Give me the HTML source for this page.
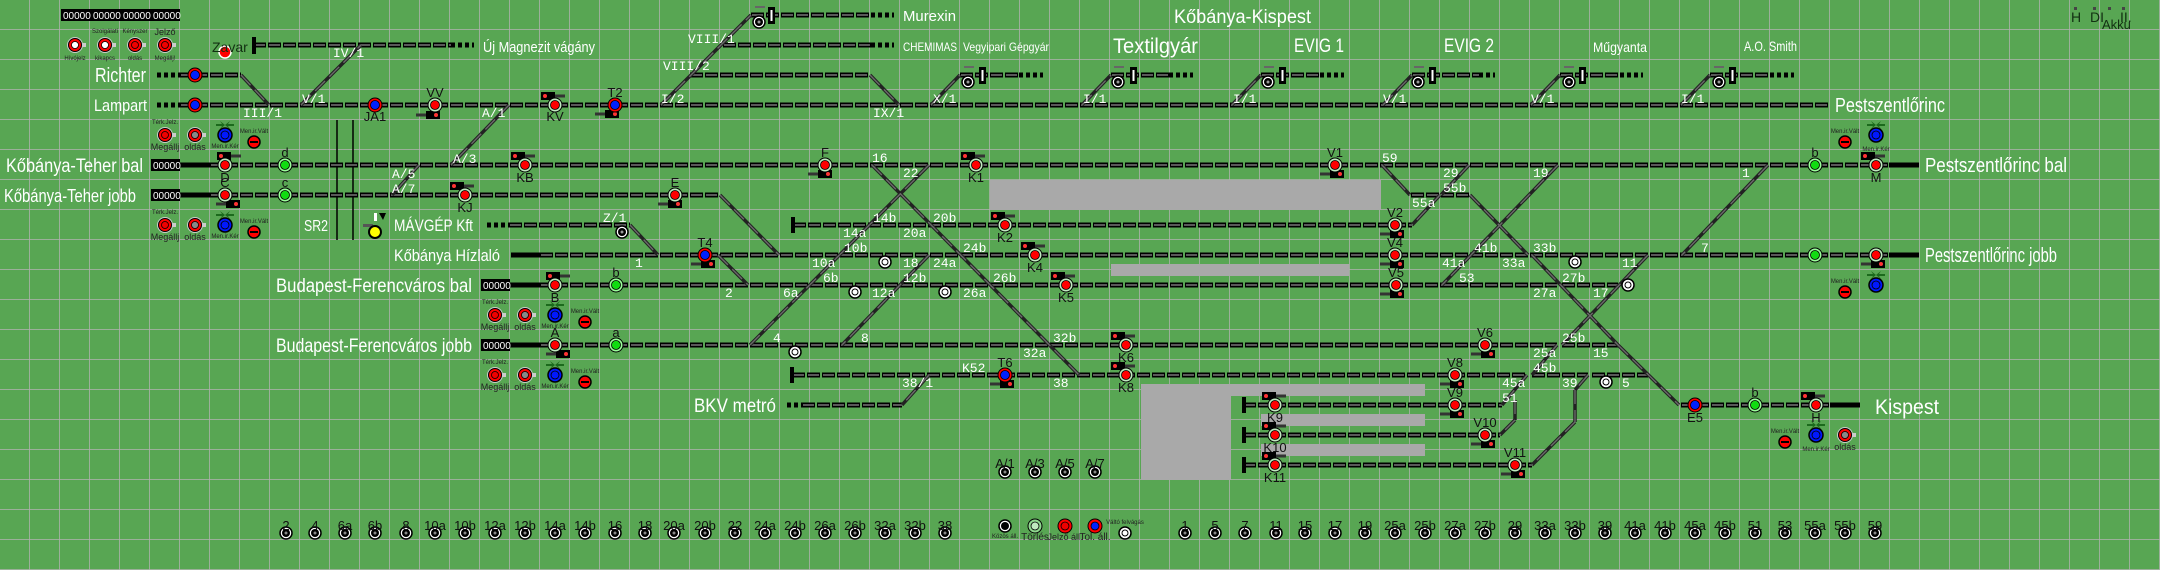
<!DOCTYPE html>
<html><head><meta charset="utf-8"><style>
html,body{margin:0;padding:0;background:#58a653;}
svg{display:block}
.w{fill:#fff;font-family:"Liberation Sans Narrow","Liberation Sans",sans-serif}
.m{fill:#fff;font-family:"Liberation Mono",monospace;font-size:13px}
.d{fill:#123012;font-family:"Liberation Sans Narrow","Liberation Sans",sans-serif;font-size:14px}
.n{fill:#111;font-family:"Liberation Sans Narrow","Liberation Sans",sans-serif;font-size:13px;text-anchor:middle}
.s{fill:#222;font-family:"Liberation Sans",sans-serif;font-size:6px;text-anchor:middle}
</style></head><body>
<svg width="2160" height="570" viewBox="0 0 2160 570" xmlns="http://www.w3.org/2000/svg">
<defs>
<pattern id="grid" width="30" height="30" patternUnits="userSpaceOnUse">
<path d="M30 0V30M0 30H30" fill="none" stroke="#b2b2b2" stroke-width="1.5"/>
</pattern>
<g id="trk">
<line x1="751" y1="15" x2="871" y2="15"/>
<line x1="253" y1="45" x2="451" y2="45"/>
<line x1="723" y1="45" x2="871" y2="45"/>
<line x1="180" y1="75" x2="241" y2="75"/>
<line x1="690" y1="75" x2="870" y2="75"/>
<line x1="960" y1="75" x2="1019" y2="75"/>
<line x1="1111" y1="75" x2="1169" y2="75"/>
<line x1="1261" y1="75" x2="1320" y2="75"/>
<line x1="1412" y1="75" x2="1479" y2="75"/>
<line x1="1560" y1="75" x2="1620" y2="75"/>
<line x1="1710" y1="75" x2="1770" y2="75"/>
<line x1="180" y1="105" x2="1830" y2="105"/>
<line x1="210" y1="165" x2="1889" y2="165"/>
<line x1="210" y1="195" x2="720" y2="195"/>
<line x1="1411" y1="195" x2="1439" y2="195"/>
<line x1="1441" y1="195" x2="1470" y2="195"/>
<line x1="509" y1="225" x2="630" y2="225"/>
<line x1="793" y1="225" x2="1412" y2="225"/>
<line x1="540" y1="255" x2="1889" y2="255"/>
<line x1="540" y1="285" x2="1557" y2="285"/>
<line x1="1562" y1="285" x2="1618" y2="285"/>
<line x1="540" y1="345" x2="1557" y2="345"/>
<line x1="1562" y1="345" x2="1618" y2="345"/>
<line x1="792" y1="375" x2="1527" y2="375"/>
<line x1="1532" y1="375" x2="1588" y2="375"/>
<line x1="1592" y1="375" x2="1648" y2="375"/>
<line x1="802" y1="405" x2="902" y2="405"/>
<line x1="1243" y1="405" x2="1502" y2="405"/>
<line x1="1243" y1="435" x2="1500" y2="435"/>
<line x1="1243" y1="465" x2="1532" y2="465"/>
<line x1="1681" y1="405" x2="1830" y2="405"/>
</g>
<g id="dia">
<line x1="241" y1="75" x2="269" y2="105"/>
<line x1="870" y1="75" x2="899" y2="105"/>
<line x1="931" y1="105" x2="960" y2="75"/>
<line x1="1082" y1="105" x2="1111" y2="75"/>
<line x1="1232" y1="105" x2="1261" y2="75"/>
<line x1="1383" y1="105" x2="1412" y2="75"/>
<line x1="1531" y1="105" x2="1560" y2="75"/>
<line x1="1681" y1="105" x2="1710" y2="75"/>
<line x1="301" y1="105" x2="361" y2="45"/>
<line x1="661" y1="105" x2="751" y2="15"/>
<line x1="509" y1="105" x2="451" y2="165"/>
<line x1="419" y1="165" x2="392" y2="195"/>
<line x1="720" y1="195" x2="779" y2="255"/>
<line x1="630" y1="225" x2="658" y2="255"/>
<line x1="718" y1="255" x2="748" y2="285"/>
<line x1="872" y1="165" x2="1079" y2="375"/>
<line x1="929" y1="165" x2="750" y2="345"/>
<line x1="929" y1="255" x2="842" y2="345"/>
<line x1="1382" y1="165" x2="1410" y2="195"/>
<line x1="1440" y1="195" x2="1412" y2="225"/>
<line x1="1469" y1="165" x2="1441" y2="195"/>
<line x1="1470" y1="195" x2="1528" y2="255"/>
<line x1="1558" y1="165" x2="1442" y2="285"/>
<line x1="1532" y1="255" x2="1618" y2="345"/>
<line x1="1648" y1="255" x2="1562" y2="345"/>
<line x1="1618" y1="345" x2="1679" y2="405"/>
<line x1="1557" y1="345" x2="1532" y2="375"/>
<line x1="1768" y1="165" x2="1682" y2="255"/>
<line x1="929" y1="375" x2="902" y2="405"/>
<line x1="1527" y1="375" x2="1502" y2="405"/>
<line x1="1515" y1="400" x2="1515" y2="420"/>
<line x1="1515" y1="420" x2="1500" y2="435"/>
<line x1="1588" y1="375" x2="1575" y2="390"/>
<line x1="1575" y1="390" x2="1575" y2="422"/>
<line x1="1575" y1="422" x2="1532" y2="465"/>
</g>
<g id="sig"><circle r="7" fill="#bfeabf" stroke="#000"/><circle r="4.5" fill="#f00" stroke="#000" stroke-width=".8"/></g>
<g id="sigb"><circle r="7" fill="#f00" stroke="#000"/><circle r="4.5" fill="#0020ff" stroke="#000" stroke-width=".8"/></g>
<g id="sigg"><circle r="7" fill="#9f9" stroke="#000"/><circle r="4.5" fill="#1d1" stroke="#000" stroke-width=".8"/></g>
<g id="ring"><circle r="6" fill="#fff" stroke="#000" stroke-width="1.5"/><circle r="3" fill="none" stroke="#000"/></g>
<g id="bring"><circle r="6" fill="#fff" stroke="#000" stroke-width="1.5"/><circle r="4" fill="#000"/><circle r="1.5" fill="#999"/></g>
<g id="dwr"><rect x="-12" y="-4" width="14" height="8" fill="#000"/><circle cx="-8" cy="0" r="2" fill="#f33"/><rect x="2" y="-1.5" width="10" height="3" fill="#333"/></g>
<g id="dwl"><rect x="-2" y="-4" width="14" height="8" fill="#000"/><circle cx="8" cy="0" r="2" fill="#f33"/><rect x="-12" y="-1.5" width="10" height="3" fill="#333"/></g>
<g id="btr"><rect x="4" y="-2" width="7" height="4" fill="#ccc"/><circle r="8" fill="#ccc"/><circle r="6.5" fill="#f00" stroke="#000"/><circle r="3.5" fill="#e00" stroke="#000" stroke-width=".8"/></g>
<g id="btg"><rect x="4" y="-2" width="7" height="4" fill="#ccc"/><circle r="8" fill="#ccc"/><circle r="6.5" fill="#f00" stroke="#000"/><circle r="3.5" fill="#888" stroke="#000" stroke-width=".8"/></g>
<g id="btw"><rect x="4" y="-2" width="7" height="4" fill="#ccc"/><circle r="8" fill="#ccc"/><circle r="6.5" fill="#f00" stroke="#000"/><circle r="3.5" fill="#fff" stroke="#000" stroke-width=".8"/></g>
<g id="btb"><circle r="7" fill="#0018ff" stroke="#000" stroke-width="1.5"/><circle r="4" fill="none" stroke="#000" stroke-width=".8"/><path d="M-9-11h6l-2-3 5 4-5 4 2-3h-6zM9-11h-6l2-3-5 4 5 4-2-3h6z" fill="#1c6a1c"/></g>
<g id="bts"><circle r="6" fill="#f00" stroke="#000" stroke-width="1.5"/><rect x="-4" y="-1" width="8" height="2" fill="#000"/></g>
<g id="num"><circle r="6" fill="#fff" stroke="#000" stroke-width="1.5"/><circle r="4" fill="#000"/><circle r="1.5" fill="#888"/></g>
</defs>
<rect width="2160" height="570" fill="#58a653"/>
<rect width="2160" height="570" fill="url(#grid)"/>

<!-- gray blocks -->
<g fill="#a9a9a9">
<rect x="990" y="180" width="391" height="30"/>
<rect x="1111" y="264" width="238" height="12"/>
<rect x="1141" y="384" width="90" height="96"/>
<rect x="1231" y="384" width="194" height="12"/>
<rect x="1261" y="414" width="164" height="12"/>
<rect x="1261" y="444" width="164" height="12"/>
</g>

<!-- SR2 lines -->
<line x1="337" y1="120" x2="337" y2="240" stroke="#000" stroke-width="1.5"/>
<line x1="353" y1="120" x2="353" y2="240" stroke="#000" stroke-width="1.5"/>

<!-- tracks -->
<use href="#trk" stroke="#000" stroke-width="5" stroke-dasharray="13 2"/>
<use href="#trk" stroke="#666" stroke-width="1.8" stroke-dasharray="11 4" stroke-dashoffset="-1"/>
<use href="#dia" stroke="#222" stroke-width="3.5"/>
<use href="#dia" stroke="#6a6a6a" stroke-width="1.4" stroke-dasharray="14 6"/>
<!-- dotted ends -->
<g stroke="#000" stroke-width="5" stroke-dasharray="4 3">
<line x1="871" y1="15" x2="894" y2="15"/><line x1="451" y1="45" x2="474" y2="45"/><line x1="871" y1="45" x2="894" y2="45"/>
<line x1="157" y1="75" x2="180" y2="75"/><line x1="157" y1="105" x2="180" y2="105"/>
<line x1="1019" y1="75" x2="1043" y2="75"/><line x1="1169" y1="75" x2="1193" y2="75"/><line x1="1320" y1="75" x2="1344" y2="75"/>
<line x1="1479" y1="75" x2="1495" y2="75"/><line x1="1620" y1="75" x2="1643" y2="75"/><line x1="1770" y1="75" x2="1794" y2="75"/>
<line x1="487" y1="225" x2="509" y2="225"/><line x1="787" y1="405" x2="803" y2="405"/>
</g>
<!-- thick ends -->
<g stroke="#000" stroke-width="5">
<line x1="180" y1="165" x2="210" y2="165"/><line x1="180" y1="195" x2="210" y2="195"/>
<line x1="511" y1="255" x2="540" y2="255"/><line x1="510" y1="285" x2="540" y2="285"/><line x1="510" y1="345" x2="540" y2="345"/>
<line x1="1889" y1="165" x2="1919" y2="165"/><line x1="1889" y1="255" x2="1919" y2="255"/><line x1="1830" y1="405" x2="1860" y2="405"/>
</g>
<!-- bumpers -->
<g fill="#000">
<rect x="252" y="37" width="4" height="17"/><rect x="791" y="217" width="4" height="16"/><rect x="790" y="367" width="4" height="16"/>
<rect x="1242" y="397" width="4" height="16"/><rect x="1242" y="427" width="4" height="16"/><rect x="1242" y="457" width="4" height="16"/>
</g>
<!-- derails -->
<g><g fill="#000"><rect x="768" y="7" width="7" height="17"/><rect x="979" y="67" width="7" height="17"/><rect x="1130" y="67" width="7" height="17"/><rect x="1279" y="67" width="7" height="17"/><rect x="1429" y="67" width="7" height="17"/><rect x="1579" y="67" width="7" height="17"/><rect x="1729" y="67" width="7" height="17"/></g>
<g fill="#fff"><rect x="770.5" y="10" width="2" height="11"/><rect x="981.5" y="70" width="2" height="11"/><rect x="1132.5" y="70" width="2" height="11"/><rect x="1281.5" y="70" width="2" height="11"/><rect x="1431.5" y="70" width="2" height="11"/><rect x="1581.5" y="70" width="2" height="11"/><rect x="1731.5" y="70" width="2" height="11"/></g>
<g fill="#666"><rect x="755" y="6" width="10" height="2"/><rect x="964" y="66" width="10" height="2"/><rect x="1114" y="66" width="10" height="2"/><rect x="1264" y="66" width="10" height="2"/><rect x="1414" y="66" width="10" height="2"/><rect x="1564" y="66" width="10" height="2"/><rect x="1714" y="66" width="10" height="2"/></g></g>

<!-- counters -->
<g font-family="Liberation Sans Narrow, Liberation Sans, sans-serif" font-size="10" fill="#fff">
<rect x="61" y="9" width="119" height="12" fill="#000"/>
<text x="63" y="19">00000</text><text x="93" y="19">00000</text><text x="123" y="19">00000</text><text x="153" y="19">00000</text>
<rect x="151" y="159" width="29" height="12" fill="#000"/><text x="153" y="169">00000</text>
<rect x="151" y="189" width="29" height="12" fill="#000"/><text x="153" y="199">00000</text>
<rect x="481" y="279" width="29" height="12" fill="#000"/><text x="483" y="289">00000</text>
<rect x="481" y="339" width="29" height="12" fill="#000"/><text x="483" y="349">00000</text>
</g>

<!-- rings -->
<use href="#bring" x="759" y="22"/><use href="#bring" x="968" y="82"/><use href="#bring" x="1118" y="82"/><use href="#bring" x="1268" y="82"/><use href="#bring" x="1418" y="82"/><use href="#bring" x="1569" y="82"/><use href="#bring" x="1719" y="82"/>
<use href="#bring" x="622" y="232"/>
<use href="#ring" x="885" y="262"/><use href="#ring" x="855" y="292"/><use href="#ring" x="945" y="292"/><use href="#ring" x="795" y="352"/>
<use href="#ring" x="1575" y="262"/><use href="#ring" x="1628" y="285"/><use href="#ring" x="1606" y="382"/>

<!-- dwarf signals -->
<use href="#dwr" x="553" y="96"/><use href="#dwl" x="607" y="114"/><use href="#dwl" x="428" y="115"/>
<use href="#dwr" x="229" y="156"/><use href="#dwl" x="228" y="204"/><use href="#dwr" x="523" y="156"/><use href="#dwr" x="462" y="186"/><use href="#dwl" x="670" y="204"/>
<use href="#dwl" x="820" y="174"/><use href="#dwr" x="973" y="156"/><use href="#dwl" x="1332" y="174"/>
<use href="#dwr" x="1003" y="216"/><use href="#dwl" x="1392" y="234"/><use href="#dwl" x="703" y="264"/><use href="#dwr" x="1033" y="246"/><use href="#dwl" x="1392" y="264"/>
<use href="#dwr" x="558" y="276"/><use href="#dwr" x="1063" y="276"/><use href="#dwl" x="1392" y="294"/>
<use href="#dwl" x="558" y="354"/><use href="#dwr" x="1123" y="336"/><use href="#dwl" x="1483" y="354"/>
<use href="#dwl" x="1002" y="384"/><use href="#dwr" x="1123" y="366"/><use href="#dwl" x="1452" y="384"/>
<use href="#dwr" x="1274" y="396"/><use href="#dwl" x="1452" y="414"/><use href="#dwr" x="1274" y="426"/><use href="#dwl" x="1483" y="444"/><use href="#dwr" x="1274" y="456"/><use href="#dwl" x="1513" y="474"/>
<use href="#dwr" x="1873" y="156"/><use href="#dwl" x="1873" y="264"/><use href="#dwr" x="1813" y="396"/>

<!-- signals -->
<use href="#sigb" x="195" y="75"/><use href="#sigb" x="195" y="105"/><use href="#sigb" x="375" y="105"/><use href="#sig" x="435" y="105"/><use href="#sig" x="555" y="105"/><use href="#sigb" x="615" y="105"/>
<use href="#sig" x="225" y="165"/><use href="#sigg" x="285" y="165"/><use href="#sig" x="525" y="165"/><use href="#sig" x="825" y="165"/><use href="#sig" x="976" y="165"/><use href="#sig" x="1335" y="165"/><use href="#sigg" x="1815" y="165"/><use href="#sig" x="1876" y="165"/>
<use href="#sig" x="225" y="195"/><use href="#sigg" x="285" y="195"/><use href="#sig" x="465" y="195"/><use href="#sig" x="675" y="195"/>
<use href="#sig" x="1005" y="225"/><use href="#sig" x="1395" y="225"/>
<use href="#sigb" x="705" y="255"/><use href="#sig" x="1035" y="255"/><use href="#sig" x="1395" y="255"/><use href="#sigg" x="1815" y="255"/><use href="#sig" x="1876" y="255"/>
<use href="#sig" x="555" y="285"/><use href="#sigg" x="616" y="285"/><use href="#sig" x="1066" y="285"/><use href="#sig" x="1396" y="285"/>
<use href="#sig" x="555" y="345"/><use href="#sigg" x="616" y="345"/><use href="#sig" x="1126" y="345"/><use href="#sig" x="1485" y="345"/>
<use href="#sigb" x="1005" y="375"/><use href="#sig" x="1126" y="375"/><use href="#sig" x="1455" y="375"/>
<use href="#sig" x="1275" y="405"/><use href="#sig" x="1455" y="405"/><use href="#sig" x="1275" y="435"/><use href="#sig" x="1485" y="435"/><use href="#sig" x="1275" y="465"/><use href="#sig" x="1515" y="465"/>
<use href="#sigb" x="1695" y="405"/><use href="#sigg" x="1755" y="405"/><use href="#sig" x="1816" y="405"/>
<!-- Zavar dot / yellow -->
<circle cx="225" cy="52" r="6" fill="#f00" stroke="#fff" stroke-width="1.5"/>
<rect x="363" y="224" width="10" height="3" fill="#555"/><rect x="374" y="213" width="3" height="8" fill="#fff"/><circle cx="375" cy="232" r="6" fill="#ff0" stroke="#000" stroke-width="2"/><path d="M379 213h7l-3 7z" fill="#000"/>

<!-- buttons -->
<use href="#btw" x="75" y="45"/><use href="#btw" x="105" y="45"/><use href="#btr" x="135" y="45"/><use href="#btr" x="165" y="45"/>
<use href="#btr" x="165" y="135"/><use href="#btg" x="195" y="135"/><use href="#btb" x="225" y="135"/><use href="#bts" x="254" y="142"/>
<use href="#btr" x="165" y="225"/><use href="#btg" x="195" y="225"/><use href="#btb" x="225" y="225"/><use href="#bts" x="254" y="232"/>
<use href="#btr" x="495" y="315"/><use href="#btg" x="525" y="315"/><use href="#btb" x="555" y="315"/><use href="#bts" x="585" y="322"/>
<use href="#btr" x="495" y="375"/><use href="#btg" x="525" y="375"/><use href="#btb" x="555" y="375"/><use href="#bts" x="585" y="382"/>
<use href="#bts" x="1845" y="142"/><use href="#btb" x="1876" y="135"/>
<use href="#bts" x="1845" y="292"/><use href="#btb" x="1876" y="285"/>
<use href="#bts" x="1785" y="442"/><use href="#btb" x="1816" y="435"/><use href="#btg" x="1845" y="435"/>
<g class="s">
<text x="75" y="60">Hívójelz</text><text x="105" y="33">Szolgálati</text><text x="105" y="60">kikapcs</text><text x="135" y="33">Kényszer</text><text x="135" y="60">oldás</text><text x="165" y="35" font-size="9">Jelző</text><text x="165" y="60">Megállj!</text>
<text x="165" y="124">Térk.Jelz.</text><text x="165" y="150" font-size="9">Megállj</text><text x="195" y="150" font-size="9">oldás</text><text x="225" y="148">Men.ir.Kér</text><text x="254" y="133">Men.ir.Vált</text>
<text x="165" y="214">Térk.Jelz.</text><text x="165" y="240" font-size="9">Megállj</text><text x="195" y="240" font-size="9">oldás</text><text x="225" y="238">Men.ir.Kér</text><text x="254" y="223">Men.ir.Vált</text>
<text x="495" y="304">Térk.Jelz.</text><text x="495" y="330" font-size="9">Megállj</text><text x="525" y="330" font-size="9">oldás</text><text x="555" y="328">Men.ir.Kér</text><text x="585" y="313">Men.ir.Vált</text>
<text x="495" y="364">Térk.Jelz.</text><text x="495" y="390" font-size="9">Megállj</text><text x="525" y="390" font-size="9">oldás</text><text x="555" y="388">Men.ir.Kér</text><text x="585" y="373">Men.ir.Vált</text>
<text x="1845" y="133">Men.ir.Vált</text><text x="1876" y="151">Men.ir.Kér</text><text x="1845" y="283">Men.ir.Vált</text>
<text x="1785" y="433">Men.ir.Vált</text><text x="1816" y="451">Men.ir.Kér</text><text x="1845" y="450" font-size="9">oldás</text>
</g>

<!-- main labels -->
<g class="w" lengthAdjust="spacingAndGlyphs">
<text x="95" y="82" font-size="20" textLength="51" lengthAdjust="spacingAndGlyphs">Richter</text>
<text x="94" y="111" font-size="17" textLength="53" lengthAdjust="spacingAndGlyphs">Lampart</text>
<text x="6" y="172" font-size="19" textLength="137" lengthAdjust="spacingAndGlyphs">Kőbánya-Teher bal</text>
<text x="4" y="202" font-size="18" textLength="132" lengthAdjust="spacingAndGlyphs">Kőbánya-Teher jobb</text>
<text x="304" y="231" font-size="16" textLength="24" lengthAdjust="spacingAndGlyphs">SR2</text>
<text x="394" y="231" font-size="17" textLength="79" lengthAdjust="spacingAndGlyphs">MÁVGÉP Kft</text>
<text x="394" y="261" font-size="17" textLength="106" lengthAdjust="spacingAndGlyphs">Kőbánya Hízlaló</text>
<text x="276" y="292" font-size="19" textLength="196" lengthAdjust="spacingAndGlyphs">Budapest-Ferencváros bal</text>
<text x="276" y="352" font-size="19" textLength="196" lengthAdjust="spacingAndGlyphs">Budapest-Ferencváros jobb</text>
<text x="694" y="412" font-size="19" textLength="82" lengthAdjust="spacingAndGlyphs">BKV metró</text>
<text x="483" y="52" font-size="15" textLength="112" lengthAdjust="spacingAndGlyphs">Új Magnezit vágány</text>
<text x="903" y="21" font-size="15" textLength="53" lengthAdjust="spacingAndGlyphs">Murexin</text>
<text x="903" y="51" font-size="12" textLength="54" lengthAdjust="spacingAndGlyphs">CHEMIMAS</text>
<text x="963" y="51" font-size="12" textLength="86" lengthAdjust="spacingAndGlyphs">Vegyipari Gépgyár</text>
<text x="1174" y="23" font-size="19" textLength="137" lengthAdjust="spacingAndGlyphs">Kőbánya-Kispest</text>
<text x="1113" y="53" font-size="21" textLength="85" lengthAdjust="spacingAndGlyphs">Textilgyár</text>
<text x="1294" y="52" font-size="19" textLength="50" lengthAdjust="spacingAndGlyphs">EVIG 1</text>
<text x="1444" y="52" font-size="19" textLength="50" lengthAdjust="spacingAndGlyphs">EVIG 2</text>
<text x="1593" y="52" font-size="14" textLength="54" lengthAdjust="spacingAndGlyphs">Műgyanta</text>
<text x="1744" y="51" font-size="14" textLength="53" lengthAdjust="spacingAndGlyphs">A.O. Smith</text>
<text x="1835" y="112" font-size="20" textLength="110" lengthAdjust="spacingAndGlyphs">Pestszentlőrinc</text>
<text x="1925" y="172" font-size="20" textLength="142" lengthAdjust="spacingAndGlyphs">Pestszentlőrinc bal</text>
<text x="1925" y="262" font-size="20" textLength="132" lengthAdjust="spacingAndGlyphs">Pestszentlőrinc jobb</text>
<text x="1875" y="414" font-size="21" textLength="64" lengthAdjust="spacingAndGlyphs">Kispest</text>
</g>
<g class="d">
<text x="212" y="52">Zavar</text>
<text x="2071" y="22">H</text><text x="2090" y="22">DI</text><text x="2120" y="22">II.</text><text x="2102" y="29" font-size="13">Akku</text>
</g>
<g fill="#444"><rect x="2074" y="7" width="3" height="3"/><rect x="2093" y="7" width="3" height="3"/><rect x="2108" y="7" width="3" height="3"/><rect x="2122" y="7" width="3" height="3"/></g>

<!-- switch labels -->
<g class="m">
<text x="243" y="117">III/1</text><text x="333" y="57">IV/1</text><text x="302" y="103">V/1</text><text x="482" y="117">A/1</text><text x="661" y="103">I/2</text>
<text x="688" y="43">VIII/1</text><text x="663" y="70">VIII/2</text><text x="873" y="117">IX/1</text>
<text x="933" y="103">X/1</text><text x="1083" y="103">I/1</text><text x="1233" y="103">I/1</text><text x="1383" y="103">V/1</text><text x="1531" y="103">V/1</text><text x="1681" y="103">I/1</text>
<text x="392" y="178">A/5</text><text x="392" y="193">A/7</text><text x="453" y="163">A/3</text><text x="603" y="222">Z/1</text><text x="635" y="267">1</text>
<text x="872" y="162">16</text><text x="903" y="177">22</text><text x="873" y="222">14b</text><text x="843" y="237">14a</text><text x="933" y="222">20b</text><text x="903" y="237">20a</text>
<text x="844" y="252">10b</text><text x="812" y="267">10a</text><text x="903" y="267">18</text><text x="963" y="252">24b</text><text x="933" y="267">24a</text>
<text x="725" y="297">2</text><text x="783" y="297">6a</text><text x="823" y="282">6b</text><text x="903" y="282">12b</text><text x="872" y="297">12a</text><text x="993" y="282">26b</text><text x="963" y="297">26a</text>
<text x="773" y="342">4</text><text x="861" y="342">8</text><text x="1053" y="342">32b</text><text x="1023" y="357">32a</text>
<text x="902" y="387">38/1</text><text x="962" y="372">K52</text><text x="1053" y="387">38</text>
<text x="1382" y="162">59</text><text x="1443" y="177">29</text><text x="1443" y="192">55b</text><text x="1412" y="207">55a</text>
<text x="1474" y="252">41b</text><text x="1442" y="267">41a</text><text x="1459" y="282">53</text><text x="1533" y="252">33b</text><text x="1502" y="267">33a</text>
<text x="1533" y="177">19</text><text x="1622" y="267">11</text><text x="1562" y="282">27b</text><text x="1533" y="297">27a</text><text x="1593" y="297">17</text>
<text x="1562" y="342">25b</text><text x="1533" y="357">25a</text><text x="1593" y="357">15</text>
<text x="1533" y="372">45b</text><text x="1502" y="387">45a</text><text x="1562" y="387">39</text><text x="1622" y="387">5</text><text x="1502" y="402">51</text>
<text x="1701" y="252">7</text><text x="1742" y="177">1</text>
</g>

<!-- signal labels -->
<g class="n">
<text x="375" y="121">JA1</text><text x="435" y="97">VV</text><text x="555" y="121">KV</text><text x="615" y="97">T2</text>
<text x="225" y="182">D</text><text x="285" y="157">d</text><text x="525" y="182">KB</text><text x="825" y="157">F</text><text x="976" y="182">K1</text><text x="1335" y="157">V1</text><text x="1815" y="157">b</text><text x="1876" y="182">M</text>
<text x="225" y="187">C</text><text x="285" y="187">c</text><text x="465" y="212">KJ</text><text x="675" y="187">E</text>
<text x="1005" y="242">K2</text><text x="1395" y="217">V2</text><text x="705" y="247">T4</text><text x="1035" y="272">K4</text><text x="1395" y="247">V4</text>
<text x="555" y="302">B</text><text x="616" y="277">b</text><text x="1066" y="302">K5</text><text x="1396" y="277">V5</text>
<text x="555" y="337">A</text><text x="616" y="337">a</text><text x="1126" y="362">K6</text><text x="1485" y="337">V6</text>
<text x="1005" y="367">T6</text><text x="1126" y="392">K8</text><text x="1455" y="367">V8</text>
<text x="1275" y="422">K9</text><text x="1455" y="397">V9</text><text x="1275" y="452">K10</text><text x="1485" y="427">V10</text><text x="1275" y="482">K11</text><text x="1515" y="457">V11</text>
<text x="1695" y="422">E5</text><text x="1755" y="397">b</text><text x="1816" y="422">H</text>
</g>

<!-- A/ buttons -->
<use href="#num" x="1005" y="472"/><use href="#num" x="1035" y="472"/><use href="#num" x="1065" y="472"/><use href="#num" x="1095" y="472"/>
<g class="n" font-size="14"><text x="1005" y="468">A/1</text><text x="1035" y="468">A/3</text><text x="1065" y="468">A/5</text><text x="1095" y="468">A/7</text></g>

<!-- bottom buttons -->
<g>
<use href="#num" x="286" y="533"/><use href="#num" x="315" y="533"/><use href="#num" x="345" y="533"/><use href="#num" x="375" y="533"/><use href="#num" x="406" y="533"/><use href="#num" x="435" y="533"/><use href="#num" x="465" y="533"/><use href="#num" x="495" y="533"/><use href="#num" x="525" y="533"/><use href="#num" x="555" y="533"/><use href="#num" x="585" y="533"/><use href="#num" x="615" y="533"/><use href="#num" x="645" y="533"/><use href="#num" x="674" y="533"/><use href="#num" x="705" y="533"/><use href="#num" x="735" y="533"/><use href="#num" x="765" y="533"/><use href="#num" x="795" y="533"/>
<use href="#num" x="825" y="533"/><use href="#num" x="855" y="533"/><use href="#num" x="885" y="533"/><use href="#num" x="915" y="533"/><use href="#num" x="945" y="533"/>
<use href="#num" x="1185" y="533"/><use href="#num" x="1215" y="533"/><use href="#num" x="1245" y="533"/><use href="#num" x="1276" y="533"/><use href="#num" x="1305" y="533"/><use href="#num" x="1335" y="533"/><use href="#num" x="1365" y="533"/><use href="#num" x="1395" y="533"/><use href="#num" x="1425" y="533"/><use href="#num" x="1455" y="533"/><use href="#num" x="1485" y="533"/><use href="#num" x="1515" y="533"/>
<use href="#num" x="1545" y="533"/><use href="#num" x="1575" y="533"/><use href="#num" x="1605" y="533"/><use href="#num" x="1635" y="533"/><use href="#num" x="1665" y="533"/><use href="#num" x="1695" y="533"/><use href="#num" x="1725" y="533"/><use href="#num" x="1755" y="533"/><use href="#num" x="1785" y="533"/><use href="#num" x="1815" y="533"/><use href="#num" x="1845" y="533"/><use href="#num" x="1875" y="533"/>
</g>
<g class="n" font-size="14">
<text x="286" y="530">2</text><text x="315" y="530">4</text><text x="345" y="530">6a</text><text x="375" y="530">6b</text><text x="406" y="530">8</text><text x="435" y="530">10a</text><text x="465" y="530">10b</text><text x="495" y="530">12a</text><text x="525" y="530">12b</text><text x="555" y="530">14a</text><text x="585" y="530">14b</text><text x="615" y="530">16</text><text x="645" y="530">18</text><text x="674" y="530">20a</text><text x="705" y="530">20b</text><text x="735" y="530">22</text><text x="765" y="530">24a</text><text x="795" y="530">24b</text>
<text x="825" y="530">26a</text><text x="855" y="530">26b</text><text x="885" y="530">32a</text><text x="915" y="530">32b</text><text x="945" y="530">38</text>
<text x="1185" y="530">1</text><text x="1215" y="530">5</text><text x="1245" y="530">7</text><text x="1276" y="530">11</text><text x="1305" y="530">15</text><text x="1335" y="530">17</text><text x="1365" y="530">19</text><text x="1395" y="530">25a</text><text x="1425" y="530">25b</text><text x="1455" y="530">27a</text><text x="1485" y="530">27b</text><text x="1515" y="530">29</text>
<text x="1545" y="530">33a</text><text x="1575" y="530">33b</text><text x="1605" y="530">39</text><text x="1635" y="530">41a</text><text x="1665" y="530">41b</text><text x="1695" y="530">45a</text><text x="1725" y="530">45b</text><text x="1755" y="530">51</text><text x="1785" y="530">53</text><text x="1815" y="530">55a</text><text x="1845" y="530">55b</text><text x="1875" y="530">59</text>
</g>
<!-- control buttons -->
<circle cx="1005" cy="526" r="6" fill="#fff" stroke="#000" stroke-width="1.5"/><circle cx="1005" cy="526" r="4" fill="#000"/>
<circle cx="1035" cy="526" r="7" fill="#8fd88f" stroke="#000"/><circle cx="1035" cy="526" r="4" fill="#bfeabf" stroke="#000" stroke-width=".8"/>
<circle cx="1065" cy="526" r="7" fill="#f00" stroke="#000"/><circle cx="1065" cy="526" r="4" fill="#e00" stroke="#000" stroke-width=".8"/>
<circle cx="1095" cy="526" r="7" fill="#f00" stroke="#000"/><circle cx="1095" cy="526" r="4" fill="#0020ff" stroke="#000" stroke-width=".8"/>
<use href="#ring" x="1125" y="533"/>
<g class="s"><text x="1005" y="538">Közös áll.</text><text x="1035" y="540" font-size="10">Törlés</text><text x="1065" y="540" font-size="9">Jelző áll.</text><text x="1095" y="540" font-size="10">Tol. áll.</text><text x="1125" y="524">Váltó felvágás</text></g>
</svg>
</body></html>
